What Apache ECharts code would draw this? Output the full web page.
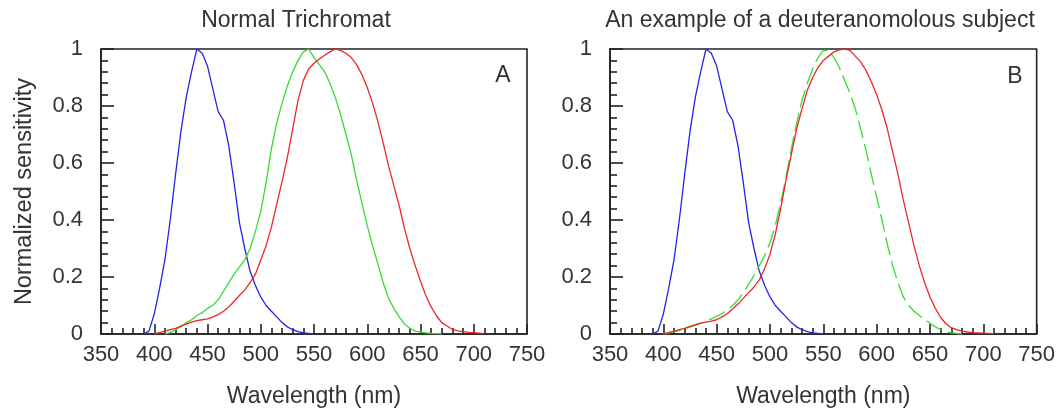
<!DOCTYPE html>
<html>
<head>
<meta charset="utf-8">
<script src="https://cdn.jsdelivr.net/npm/echarts@6/dist/echarts.min.js"></script>
<style>
html,body{margin:0;padding:0;background:#fff;}
#c{width:1058px;height:415px;}
</style>
</head>
<body>
<div id="c"></div>
<script>
// ---- Data (wavelength in nm, normalized sensitivity) ----
var xTicks = [350, 400, 450, 500, 550, 600, 650, 700, 750];
var yTicks = [0, 0.2, 0.4, 0.6, 0.8, 1];

var blueWl = [390,395,400,405,410,415,420,425,430,435,440,445,450,455,460,465,470,475,480,485,490,495,500,505,510,515,520,525,530,535,540,545,550];
var blueVals = [0,0.01,0.07,0.16,0.26,0.40,0.56,0.71,0.83,0.92,1.0,0.985,0.94,0.86,0.78,0.75,0.66,0.53,0.39,0.30,0.22,0.17,0.13,0.10,0.08,0.06,0.04,0.025,0.015,0.008,0.004,0.002,0];

var greenAWl = [410,415,420,425,430,435,440,445,450,455,460,465,470,475,480,485,490,495,500,505,510,515,520,525,530,535,540,545,550,555,560,565,570,575,580,585,590,595,600,605,610,615,620,625,630,635,640,645,650,655,660,665,670];
var greenAVals = [0,0.005,0.015,0.025,0.04,0.05,0.065,0.075,0.09,0.10,0.12,0.15,0.18,0.21,0.235,0.26,0.30,0.36,0.43,0.53,0.65,0.74,0.81,0.87,0.92,0.96,0.99,1.0,0.97,0.945,0.92,0.88,0.83,0.77,0.70,0.63,0.54,0.46,0.38,0.31,0.245,0.18,0.125,0.09,0.06,0.035,0.02,0.01,0.007,0.004,0.002,0.001,0];

var redAWl = [400,405,410,415,420,425,430,435,440,445,450,455,460,465,470,475,480,485,490,495,500,505,510,515,520,525,530,535,540,545,550,555,560,565,570,575,580,585,590,595,600,605,610,615,620,625,630,635,640,645,650,655,660,665,670,675,680,685,690,695,700,705,710];
var redAVals = [0,0.005,0.01,0.015,0.02,0.028,0.035,0.042,0.047,0.05,0.053,0.06,0.068,0.08,0.095,0.115,0.135,0.155,0.18,0.21,0.26,0.31,0.375,0.455,0.535,0.62,0.72,0.82,0.89,0.93,0.95,0.965,0.978,0.99,1.0,0.995,0.985,0.97,0.945,0.91,0.865,0.81,0.745,0.67,0.59,0.52,0.45,0.37,0.30,0.24,0.185,0.135,0.095,0.064,0.04,0.028,0.016,0.011,0.008,0.006,0.005,0.003,0.001];

var greenBWl = [400,405,410,415,420,425,430,435,440,445,450,455,460,465,470,475,480,485,490,495,500,505,510,515,520,525,530,535,540,545,550,555,560,565,570,575,580,585,590,595,600,605,610,615,620,625,630,635,640,645,650,655,660,665,670,675,680];
var greenBVals = [0,0.003,0.008,0.012,0.018,0.024,0.03,0.037,0.045,0.053,0.062,0.072,0.085,0.10,0.12,0.145,0.175,0.205,0.24,0.275,0.32,0.38,0.46,0.55,0.65,0.74,0.82,0.88,0.93,0.97,0.995,0.995,0.97,0.935,0.89,0.845,0.79,0.72,0.645,0.56,0.48,0.40,0.315,0.24,0.18,0.13,0.10,0.08,0.065,0.05,0.038,0.025,0.015,0.008,0.004,0.002,0];

var redBWl = [400,405,410,415,420,425,430,435,440,445,450,455,460,465,470,475,480,485,490,495,500,505,510,515,520,525,530,535,540,545,550,555,560,565,570,575,580,585,590,595,600,605,610,615,620,625,630,635,640,645,650,655,660,665,670,675,680,685,690,695,700,705,710];
var redBVals = [0,0.005,0.01,0.015,0.02,0.027,0.033,0.038,0.042,0.045,0.05,0.06,0.072,0.088,0.105,0.125,0.145,0.165,0.19,0.23,0.28,0.35,0.44,0.54,0.63,0.72,0.79,0.855,0.90,0.935,0.96,0.975,0.99,0.997,1.0,0.995,0.975,0.955,0.925,0.885,0.84,0.785,0.72,0.64,0.56,0.47,0.39,0.31,0.24,0.18,0.13,0.09,0.058,0.036,0.022,0.015,0.01,0.007,0.005,0.004,0.003,0.002,0.001];

var panelTitles = ['Normal Trichromat', 'An example of a deuteranomolous subject'];
var panelLetters = ['A', 'B'];

function pairs(wl, v) { return wl.map(function (w, i) { return [w, v[i]]; }); }

var BLUE = '#2323e8', GREEN = '#33dd33', RED = '#ee2626', TXT = '#333', AX = '#222';
var sansFont = '"Liberation Sans", Arial, sans-serif';

function xAxisCfg(idx) {
  return {
    type: 'value', gridIndex: idx, min: xTicks[0], max: xTicks[xTicks.length - 1], interval: 50,
    name: 'Wavelength (nm)', nameLocation: 'middle', nameGap: 51,
    nameTextStyle: { fontFamily: sansFont, fontSize: 23, color: TXT },
    axisLine: { show: true, onZero: false, lineStyle: { color: AX, width: 1.6 } },
    axisTick: { show: true, inside: true, length: 10, lineStyle: { color: AX, width: 1.6 } },
    minorTick: { show: true, splitNumber: 5, length: 6, lineStyle: { color: AX, width: 1.6 } },
    splitLine: { show: false },
    axisLabel: { fontFamily: sansFont, fontSize: 22, color: TXT, margin: 10 }
  };
}
function yAxisCfg(idx, withName) {
  var c = {
    type: 'value', gridIndex: idx, min: yTicks[0], max: yTicks[yTicks.length - 1], interval: 0.2,
    axisLine: { show: true, onZero: false, lineStyle: { color: AX, width: 1.6 } },
    axisTick: { show: true, inside: true, length: 13, lineStyle: { color: AX, width: 1.6 } },
    minorTick: { show: true, splitNumber: 5, length: 7, lineStyle: { color: AX, width: 1.6 } },
    splitLine: { show: false },
    axisLabel: { fontFamily: sansFont, fontSize: 22, color: TXT, margin: 18 }
  };
  if (withName) {
    c.name = 'Normalized sensitivity';
    c.nameLocation = 'middle';
    c.nameGap = 64;
    c.nameTextStyle = { fontFamily: sansFont, fontSize: 23.5, color: TXT };
  }
  return c;
}
function line(name, x, y, data, color, dashed) {
  return {
    name: name, type: 'line', xAxisIndex: x, yAxisIndex: y, data: data,
    showSymbol: false, smooth: false, animation: false, silent: true,
    lineStyle: { color: color, width: 1.3, type: dashed ? [18, 6] : 'solid' },
    itemStyle: { color: color }
  };
}

var chart = echarts.init(document.getElementById('c'), null, { renderer: 'canvas' });
chart.setOption({
  animation: false,
  backgroundColor: '#fff',
  grid: [
    { left: 101, top: 49, width: 426, height: 285, show: true, borderColor: AX, borderWidth: 1.6, backgroundColor: 'transparent' },
    { left: 610, top: 49, width: 427, height: 285, show: true, borderColor: AX, borderWidth: 1.6, backgroundColor: 'transparent' }
  ],
  xAxis: [xAxisCfg(0), xAxisCfg(1)],
  yAxis: [yAxisCfg(0, true), yAxisCfg(1, false)],
  graphic: [
    { type: 'text', x: 296, y: 21, style: { text: panelTitles[0], font: '23px ' + sansFont, fill: TXT, textAlign: 'center', textVerticalAlign: 'middle' } },
    { type: 'text', x: 820, y: 21, style: { text: panelTitles[1], font: '23px ' + sansFont, fill: TXT, textAlign: 'center', textVerticalAlign: 'middle' } },
    { type: 'text', x: 503, y: 76, style: { text: panelLetters[0], font: '23px ' + sansFont, fill: TXT, textAlign: 'center', textVerticalAlign: 'middle' } },
    { type: 'text', x: 1015, y: 77, style: { text: panelLetters[1], font: '23px ' + sansFont, fill: TXT, textAlign: 'center', textVerticalAlign: 'middle' } }
  ],
  series: [
    line('S cone', 0, 0, pairs(blueWl, blueVals), BLUE, false),
    line('M cone', 0, 0, pairs(greenAWl, greenAVals), GREEN, false),
    line('L cone', 0, 0, pairs(redAWl, redAVals), RED, false),
    line('S cone', 1, 1, pairs(blueWl, blueVals), BLUE, false),
    line('M\' cone', 1, 1, pairs(greenBWl, greenBVals), GREEN, true),
    line('L cone', 1, 1, pairs(redBWl, redBVals), RED, false)
  ]
});
</script>
</body>
</html>
